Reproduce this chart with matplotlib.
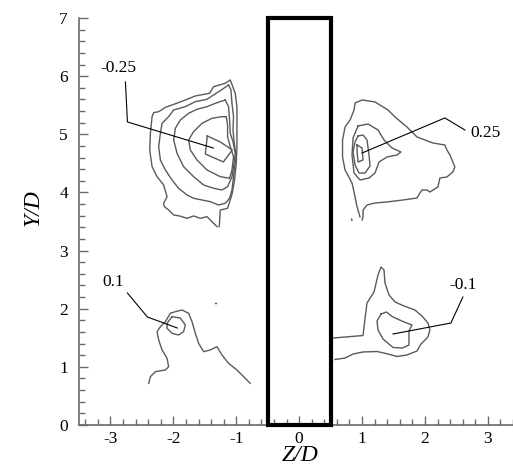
import matplotlib
matplotlib.use("Agg")
import matplotlib.pyplot as plt
from matplotlib.patches import Rectangle
from matplotlib.ticker import MultipleLocator, FuncFormatter

plt.rcParams['font.family'] = ['Liberation Serif', 'DejaVu Serif']

# contour lines, (Z/D, Y/D)
# upper left group (-0.25)
ul_1 = [(-1.306, 3.411), (-1.386, 3.497), (-1.465, 3.583), (-1.571, 3.555), (-1.678, 3.595),
        (-1.783, 3.555), (-1.900, 3.595), (-1.995, 3.612), (-2.075, 3.698), (-2.143, 3.755),
        (-2.154, 3.813), (-2.100, 3.927), (-2.154, 4.128), (-2.259, 4.271), (-2.338, 4.443),
        (-2.376, 4.730), (-2.365, 5.017), (-2.338, 5.303), (-2.313, 5.372), (-2.233, 5.389),
        (-2.127, 5.464), (-2.021, 5.504), (-1.837, 5.578), (-1.651, 5.659), (-1.424, 5.705),
        (-1.360, 5.819), (-1.175, 5.877), (-1.095, 5.934), (-1.016, 5.705), (-0.989, 5.475),
        (-0.989, 4.787), (-1.000, 4.501), (-1.027, 4.214), (-1.063, 3.985), (-1.138, 3.727),
        (-1.254, 3.698), (-1.270, 3.411)]
ul_2 = [(-1.122, 5.848), (-1.254, 5.750), (-1.386, 5.659), (-1.465, 5.602), (-1.651, 5.561),
        (-1.810, 5.475), (-1.995, 5.418), (-2.075, 5.303), (-2.179, 5.189), (-2.206, 5.017),
        (-2.233, 4.787), (-2.206, 4.558), (-2.127, 4.386), (-2.021, 4.214), (-1.916, 4.071),
        (-1.783, 3.956), (-1.678, 3.899), (-1.544, 3.870), (-1.413, 3.841), (-1.281, 3.784),
        (-1.175, 3.813), (-1.106, 3.899), (-1.068, 4.042), (-1.043, 4.271), (-1.027, 4.443),
        (-1.000, 4.615), (-1.032, 4.845), (-1.052, 5.074), (-1.043, 5.303), (-1.068, 5.533),
        (-1.084, 5.762), (-1.122, 5.848)]
ul_3 = [(-1.175, 5.590), (-1.333, 5.533), (-1.465, 5.475), (-1.624, 5.430), (-1.757, 5.361),
        (-1.889, 5.246), (-1.968, 5.103), (-1.995, 4.902), (-1.941, 4.673), (-1.837, 4.443),
        (-1.678, 4.271), (-1.519, 4.128), (-1.360, 4.071), (-1.227, 4.042), (-1.138, 4.099),
        (-1.068, 4.271), (-1.043, 4.443), (-1.016, 4.673), (-1.052, 4.873), (-1.095, 5.017),
        (-1.106, 5.246), (-1.122, 5.475), (-1.175, 5.590)]
ul_4 = [(-1.159, 5.303), (-1.227, 5.303), (-1.386, 5.275), (-1.544, 5.189), (-1.678, 5.045),
        (-1.757, 4.902), (-1.730, 4.730), (-1.624, 4.558), (-1.465, 4.386), (-1.254, 4.271),
        (-1.106, 4.243), (-1.068, 4.386), (-1.043, 4.615), (-1.095, 4.787), (-1.138, 4.959),
        (-1.138, 5.160), (-1.159, 5.303)]
ul_5 = [(-1.460, 4.971), (-1.254, 4.868), (-1.063, 4.730), (-1.206, 4.524), (-1.492, 4.662),
        (-1.460, 4.971)]

# upper right group (0.25)
ur_1 = [(0.968, 3.578), (0.921, 3.750), (0.889, 3.922), (0.841, 4.162), (0.730, 4.386),
        (0.690, 4.610), (0.690, 4.902), (0.730, 5.126), (0.810, 5.246), (0.873, 5.418),
        (0.889, 5.538), (1.000, 5.590), (1.206, 5.556), (1.413, 5.418), (1.524, 5.298),
        (1.714, 5.126), (1.873, 4.954), (2.127, 4.850), (2.317, 4.816), (2.349, 4.730),
        (2.397, 4.644), (2.476, 4.438), (2.444, 4.352), (2.349, 4.266), (2.238, 4.248),
        (2.206, 4.094), (2.079, 4.008), (2.032, 4.042), (1.952, 4.042), (1.921, 3.990),
        (1.873, 3.904), (1.651, 3.870), (1.397, 3.836), (1.206, 3.818), (1.079, 3.784),
        (1.016, 3.698), (1.016, 3.578), (1.000, 3.526)]
ur_2 = [(0.937, 5.143), (1.095, 5.177), (1.254, 5.074), (1.349, 4.902), (1.476, 4.764),
        (1.619, 4.695), (1.556, 4.644), (1.397, 4.610), (1.270, 4.524), (1.206, 4.334),
        (1.111, 4.248), (0.968, 4.214), (0.873, 4.334), (0.841, 4.644), (0.857, 4.937),
        (0.937, 5.143)]
ur_3 = [(0.937, 4.970), (1.016, 4.988), (1.079, 4.902), (1.111, 4.644), (1.127, 4.455),
        (1.048, 4.334), (0.952, 4.334), (0.889, 4.472), (0.857, 4.695), (0.889, 4.868),
        (0.937, 4.970)]
ur_4 = [(0.921, 4.816), (1.000, 4.764), (1.016, 4.558), (0.937, 4.524), (0.921, 4.695),
        (0.921, 4.816)]

# lower left group (0.1)
ll_1 = [(-2.392, 0.717), (-2.365, 0.831), (-2.286, 0.917), (-2.127, 0.946), (-2.075, 1.003),
        (-2.100, 1.147), (-2.179, 1.290), (-2.233, 1.462), (-2.259, 1.605), (-2.206, 1.691),
        (-2.127, 1.777), (-2.048, 1.921), (-1.968, 1.949), (-1.862, 1.978), (-1.757, 1.921),
        (-1.703, 1.777), (-1.651, 1.577), (-1.598, 1.405), (-1.519, 1.261), (-1.413, 1.290),
        (-1.306, 1.347), (-1.227, 1.204), (-1.122, 1.061), (-0.989, 0.946), (-0.910, 0.860),
        (-0.778, 0.717)]
ll_2 = [(-2.021, 1.863), (-1.889, 1.840), (-1.810, 1.720), (-1.837, 1.605), (-1.916, 1.548),
        (-2.021, 1.577), (-2.100, 1.663), (-2.100, 1.749), (-2.021, 1.863)]

# lower right group (-0.1)
lr_1 = [(0.540, 1.496), (1.016, 1.539), (1.048, 1.840), (1.079, 2.098), (1.190, 2.288),
        (1.254, 2.580), (1.302, 2.718), (1.349, 2.666), (1.365, 2.442), (1.429, 2.236),
        (1.524, 2.116), (1.667, 2.047), (1.841, 1.978), (1.952, 1.875), (2.048, 1.754),
        (2.079, 1.634), (2.048, 1.514), (1.937, 1.393), (1.873, 1.273), (1.714, 1.204),
        (1.556, 1.178), (1.413, 1.221), (1.238, 1.264), (1.016, 1.256), (0.857, 1.221),
        (0.730, 1.152), (0.571, 1.127)]
lr_2 = [(1.302, 1.909), (1.389, 1.944), (1.476, 1.866), (1.667, 1.772), (1.794, 1.720),
        (1.746, 1.617), (1.746, 1.376), (1.643, 1.324), (1.492, 1.333), (1.333, 1.479),
        (1.254, 1.634), (1.238, 1.789), (1.302, 1.909)]

# tiny stray fragments
specks = [[(-1.333, 2.098), (-1.320, 2.098)], [(0.833, 3.540), (0.840, 3.520)]]

contours = [ul_1, ul_2, ul_3, ul_4, ul_5, ur_1, ur_2, ur_3, ur_4, ll_1, ll_2, lr_1, lr_2] + specks

# level labels and their leader lines
level_labels = ["-0.25", "0.25", "0.1", "-0.1"]
label_pos = [(-2.88, 6.14), (2.73, 5.02), (-3.13, 2.46), (2.60, 2.41)]
label_ha = ["center", "left", "left", "center"]
leaders = [
    [(-2.762, 5.900), (-2.730, 5.212), (-1.365, 4.764)],
    [(1.000, 4.678), (2.317, 5.281), (2.635, 5.074)],
    [(-2.730, 2.270), (-2.413, 1.858), (-1.937, 1.668)],
    [(1.492, 1.565), (2.413, 1.754), (2.603, 2.201)],
]

# cylinder outline
body_z = (-0.5, 0.5)
body_y = (0, 7)

fig = plt.figure(figsize=(5.13, 4.68), dpi=100)
ax = fig.add_axes([79 / 513, 43 / 468, 434 / 513, 407 / 468])

for c in contours:
    zs = [p[0] for p in c]
    ys = [p[1] for p in c]
    ax.plot(zs, ys, color="#5a5a5a", lw=1.0)

for pts in leaders:
    ax.plot([p[0] for p in pts], [p[1] for p in pts], color="black", lw=0.8)

for txt, pos, ha in zip(level_labels, label_pos, label_ha):
    ax.text(pos[0], pos[1], txt, ha=ha, va="center", fontsize=12.5)

ax.add_patch(Rectangle((body_z[0], body_y[0]), body_z[1] - body_z[0], body_y[1] - body_y[0],
                       fill=False, edgecolor="black", lw=3, zorder=5, clip_on=False))

ax.set_xlim(-3.5, 3.4)
ax.set_ylim(0, 7)
ax.xaxis.set_major_locator(MultipleLocator(1))
ax.xaxis.set_minor_locator(MultipleLocator(0.2))
ax.yaxis.set_major_locator(MultipleLocator(1))
ax.yaxis.set_minor_locator(MultipleLocator(0.2))
ax.tick_params(which="both", direction="in", color="#6a6a6a", labelsize=12.5)
ax.tick_params(which="major", length=6.5, width=1)
ax.tick_params(which="minor", length=4.3, width=1)
ax.tick_params(axis="x", pad=4)
ax.tick_params(axis="y", pad=8)
ax.xaxis.set_major_formatter(FuncFormatter(lambda v, p: "%d" % round(v)))
ax.yaxis.set_major_formatter(FuncFormatter(lambda v, p: "%d" % round(v)))

for s in ["top", "right"]:
    ax.spines[s].set_visible(False)
for s in ["left", "bottom"]:
    ax.spines[s].set_color("#6a6a6a")
    ax.spines[s].set_linewidth(1.2)

ax.set_xlabel("Z/D", fontsize=17, style="italic", va="center")
ax.xaxis.set_label_coords(0.509, -0.076)
ax.set_ylabel("Y/D", fontsize=17, style="italic", va="center", ha="center")
ax.yaxis.set_label_coords(-0.106, 0.533)

fig.savefig("out.png", dpi=100)
